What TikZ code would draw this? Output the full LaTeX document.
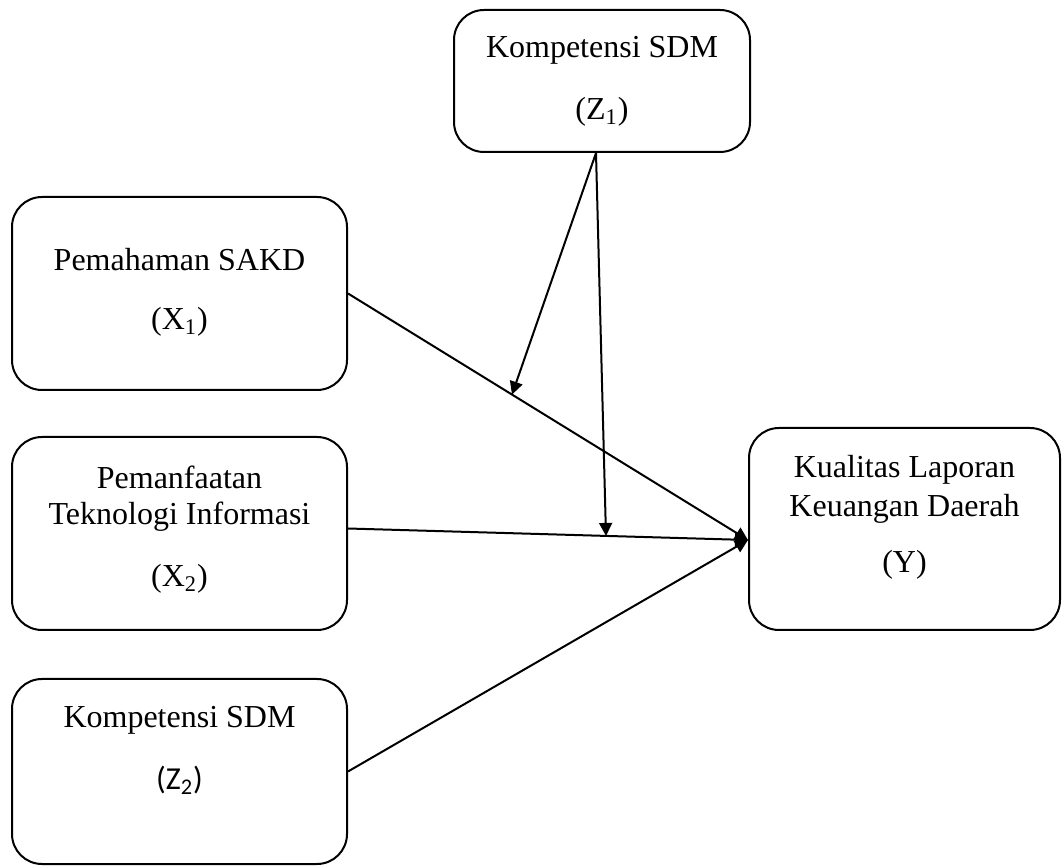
\documentclass[tikz,border=0pt]{standalone}
\usepackage{fontspec}
\setmainfont{Liberation Serif}
\newfontfamily\calibri{Carlito}
\usepackage{tikz}
\usetikzlibrary{positioning,arrows.meta,calc}
\tikzset{
  kotak/.style={
    rectangle, rounded corners=15pt, draw=black, line width=1pt,
    align=center, font=\fontsize{16}{19}\selectfont, inner sep=2pt},
  panah/.style={-{Triangle[length=6.5pt,width=6.5pt]}, draw=black, line width=1pt}
}

\begin{document}
\begin{tikzpicture}[x=0.5pt, y=-0.5pt]
  \useasboundingbox (0,0) rectangle (1062,866);

  % --- Variabel moderasi di atas
  \node[kotak, minimum width=148pt, minimum height=71pt]     (Z1) at (602,81)    {Kompetensi SDM\\[12pt](Z\textsubscript{1})};

  % --- Kolom kiri : variabel bebas
  \node[kotak, minimum width=167.5pt, minimum height=96.5pt, text depth=5pt]  (X1) at (179.5,293.5) {Pemahaman SAKD\\[10.5pt](X\textsubscript{1})};
  \node[kotak, minimum width=167.5pt, minimum height=96.5pt, text depth=7pt]  (X2) at (179.5,533.5) {Pemanfaatan\\[-1pt]Teknologi Informasi\\[12pt](X\textsubscript{2})};
  \node[kotak, minimum width=167.5pt, minimum height=92.5pt, text depth=24pt] (Z2) at (179.5,771.5) {Kompetensi SDM\\[12pt]{\calibri (Z\textsubscript{2})}};

  % --- Variabel terikat
  \node[kotak, minimum width=155.5pt, minimum height=101pt, text depth=15pt]  (Y)  at (904.5,529)   {Kualitas Laporan\\[0.5pt]Keuangan Daerah\\[9pt](Y)};

  % --- Titik bantu
  \coordinate (masuk)   at ([yshift=-5.5pt]Y.west);
  \coordinate (pangkal) at ([xshift=-3pt]Z1.south);
  \path (X1.east) -- (masuk) coordinate[pos=0.41] (m1);
  \path ([yshift=2.5pt]X2.east) -- (masuk) coordinate[pos=0.645] (m2);

  % --- Pengaruh langsung
  \draw[panah] (X1.east) -- (masuk);
  \draw[panah] ([yshift=2.5pt]X2.east) -- (masuk);
  \draw[panah] (Z2.east) -- (masuk);

  % --- Pengaruh moderasi
  \draw[panah] (pangkal) -- (m1);
  \draw[panah] (pangkal) -- (m2);

\end{tikzpicture}
\end{document}
